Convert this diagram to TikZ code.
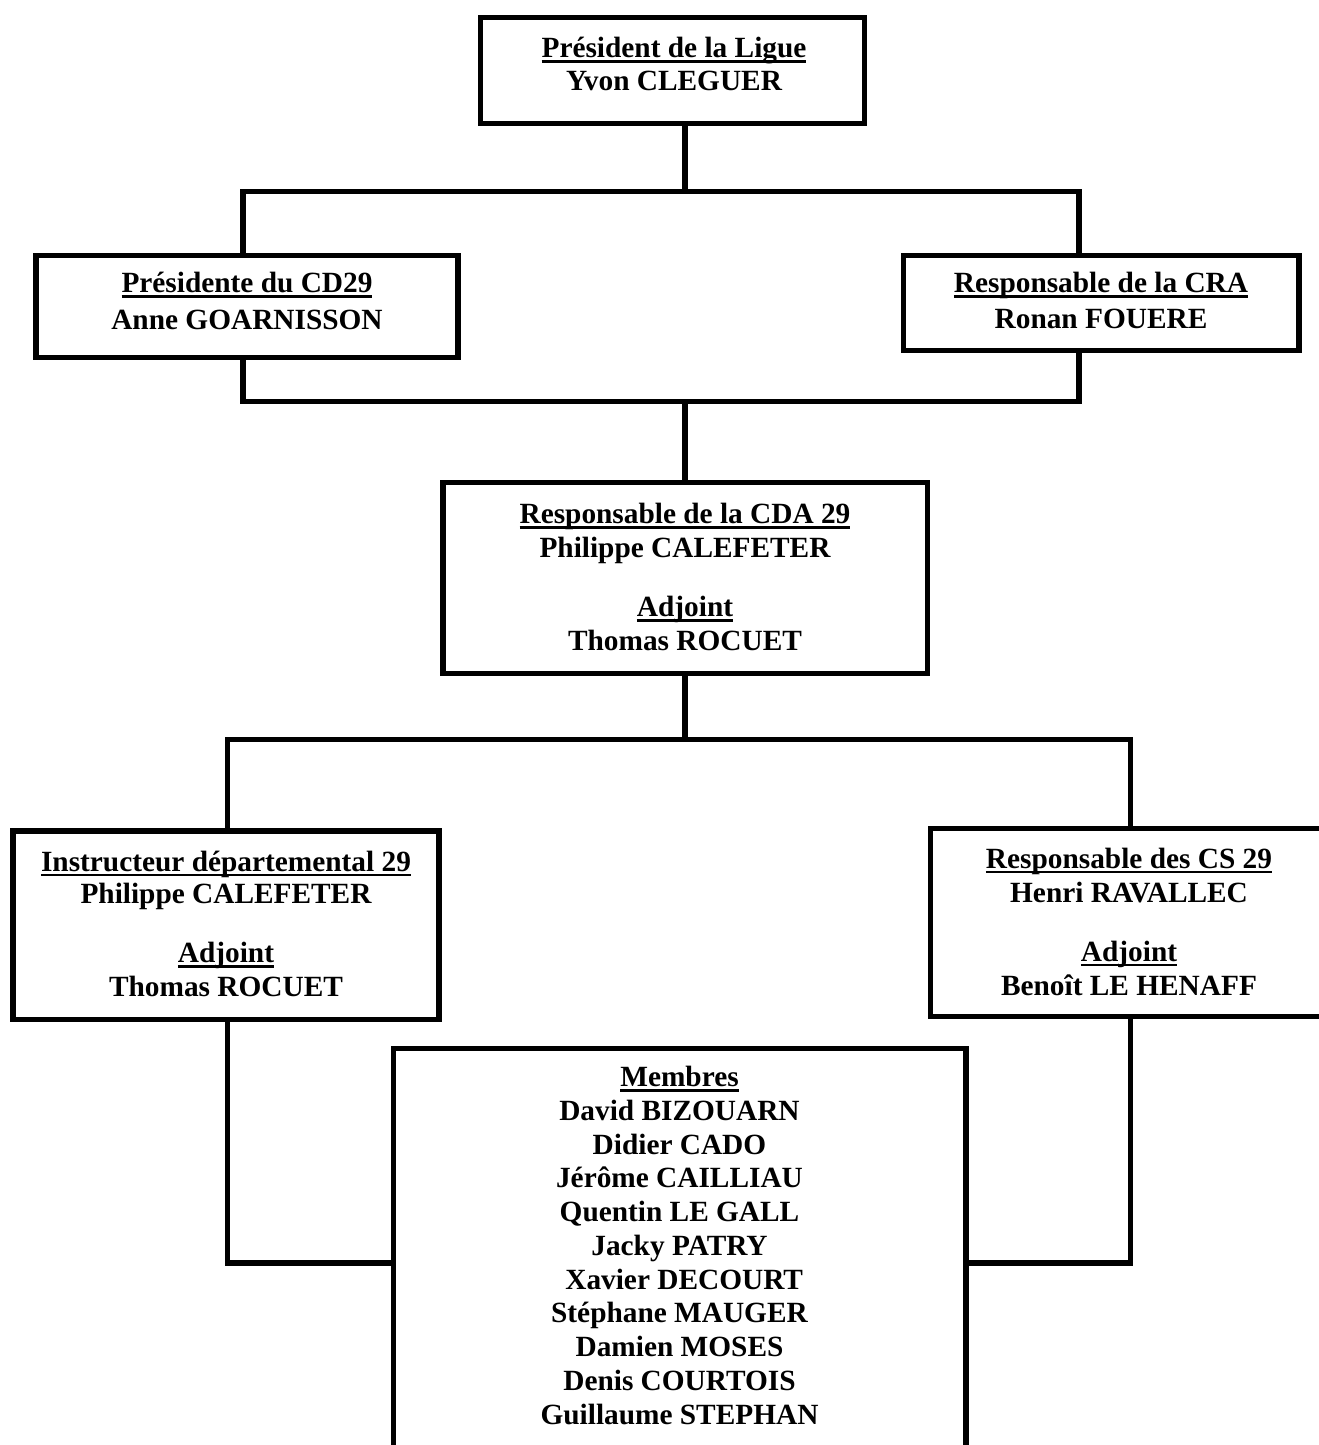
\documentclass[tikz,border=0pt]{standalone}
\usepackage{fontspec}
\setmainfont{Liberation Serif}
\newcommand\myul[1]{\setbox0=\hbox{#1}\rlap{\rule[-4pt]{\wd0}{2pt}}\box0}
\tikzset{
  box/.style={draw, line width=3.9pt, rectangle, inner sep=0pt, outer sep=0pt},
  conn/.style={draw, line width=3.9pt},
  txt/.style={inner sep=0pt, align=center, anchor=base,
    font=\fontsize{22pt}{25.5pt}\selectfont\bfseries},
  mtxt/.style={txt, font=\fontsize{22pt}{25.3pt}\selectfont\bfseries}
}
\begin{document}
\begin{tikzpicture}[x=0.75pt,y=-0.75pt]
\clip (0,0) rectangle (1319,1445);
\fill[white] (0,0) rectangle (1319,1445);
% boxes
\node[box, minimum width=288pt, minimum height=79.5pt] (T) at (672.5,70.5) {};
\node[box, minimum width=316.5pt, minimum height=76.5pt] (L1) at (247,306.5) {};
\node[box, minimum width=296.6pt, minimum height=71.25pt] (R1) at (1101.25,303) {};
\node[box, minimum width=363.4pt, minimum height=143.25pt] (C) at (685.25,578) {};
\node[box, minimum width=319.5pt, minimum height=141.4pt] (L2) at (226,925.25) {};
\node[box, minimum width=297.75pt, minimum height=141pt] (R2) at (1129,922.5) {};
\node[box, minimum width=429.4pt, minimum height=338.6pt] (M) at (679.75,1274.25) {};
% texts (anchored at the baseline of the last line)
\node[txt] (tT) at (674,90.7) {\myul{Président de la Ligue}\\[-0.5pt] Yvon CLEGUER};
\node[txt] (tL1) at (247,329.5) {\myul{Présidente du CD29}\\[2.25pt] Anne GOARNISSON};
\node[txt] (tR1) at (1101,328.5) {\myul{Responsable de la CRA}\\[1.5pt] Ronan FOUERE};
\node[txt] (tC) at (685,650.5) {\myul{Responsable de la CDA 29}\\ Philippe CALEFETER\\[18.75pt] \myul{Adjoint}\\ Thomas ROCUET};
\node[txt] (tL2) at (226,996.7) {\myul{Instructeur départemental 29}\\[-1pt] Philippe CALEFETER\\[18.75pt] \myul{Adjoint}\\ Thomas ROCUET};
\node[txt] (tR2) at (1129,995) {\myul{Responsable des CS 29}\\ Henri RAVALLEC\\[18.75pt] \myul{Adjoint}\\ Benoît LE HENAFF};
\node[mtxt] (tM) at (679.5,1424) {\myul{Membres}\\ David BIZOUARN\\ Didier CADO\\ Jérôme CAILLIAU\\ Quentin LE GALL\\ Jacky PATRY\\ \hspace*{7pt}Xavier DECOURT\\ Stéphane MAUGER\\ Damien MOSES\\ Denis COURTOIS\\ Guillaume STEPHAN};
% bus coordinates
\coordinate (b1) at (685,191.5);
\coordinate (b1l) at (243,191.5);
\coordinate (b1r) at (1079,191.5);
\coordinate (b2) at (685,401.5);
\coordinate (b3) at (685,739.5);
\coordinate (b3l) at (227.5,739.5);
\coordinate (b3r) at (1130.5,739.5);
\coordinate (b4l) at (227.5,1263);
\coordinate (b4r) at (1130.5,1263);
% connectors
\draw[conn] (T.south -| b1) -- (b1);
\draw[conn] (L1.north -| b1l) -- (b1l) -- (b1r) -- (R1.north -| b1r);
\draw[conn] (L1.south -| b1l) -- (b1l |- b2) -- (b1r |- b2) -- (R1.south -| b1r);
\draw[conn] (b2) -- (C.north -| b2);
\draw[conn] (C.south -| b3) -- (b3);
\draw[conn] (L2.north -| b3l) -- (b3l) -- (b3r) -- (R2.north -| b3r);
\draw[conn] (L2.south -| b4l) -- (b4l) -- (M.west |- b4l);
\draw[conn] (R2.south -| b4r) -- (b4r) -- (M.east |- b4r);
\end{tikzpicture}
\end{document}
